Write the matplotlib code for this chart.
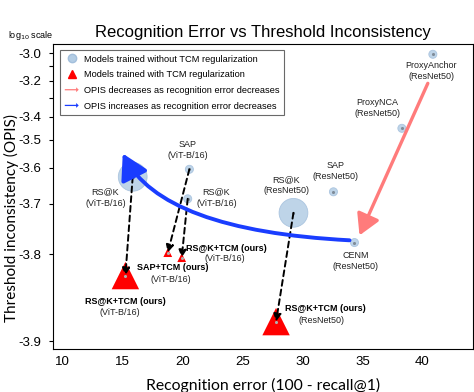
import matplotlib
matplotlib.use("Agg")
import matplotlib.pyplot as plt
import matplotlib.patches as mpatches
from matplotlib.lines import Line2D
from matplotlib.legend_handler import HandlerPatch
import numpy as np

plt.rcParams['font.family'] = ['Liberation Sans', 'DejaVu Sans']

# models trained without TCM (recognition error, log10 OPIS)
base_names = ['ProxyAnchor\n(ResNet50)', 'ProxyNCA\n(ResNet50)', 'SAP\n(ResNet50)',
              'RS@K\n(ResNet50)', 'CENM\n(ResNet50)', 'SAP\n(ViT-B/16)',
              'RS@K\n(ViT-B/16)', 'RS@K\n(ViT-B/16)']
base_err = [40.86, 38.28, 32.58, 29.25, 34.33, 20.58, 20.44, 15.86]
base_opis = [-3.010, -3.452, -3.670, -3.721, -3.780, -3.605, -3.688, -3.628]
base_big = [False, False, False, True, False, False, False, True]

# models trained with TCM
tcm_names = ['SAP+TCM (ours)', 'RS@K+TCM (ours)', 'RS@K+TCM (ours)', 'RS@K+TCM (ours)']
tcm_arch = ['(ViT-B/16)', '(ViT-B/16)', '(ViT-B/16)', '(ResNet50)']
tcm_err = [18.78, 19.94, 15.25, 27.80]
tcm_opis = [-3.797, -3.805, -3.831, -3.883]
tcm_big = [False, False, True, True]
# which baseline each TCM model comes from
tcm_from = [5, 6, 7, 3]

# trend arrows (start -> end)
red_arrow = [(40.44, -3.215), (34.75, -3.767)]
blue_arrow = [(33.92, -3.776), (15.03, -3.552)]

yticks = [-3.0, -3.1, -3.2, -3.3, -3.4, -3.5, -3.6, -3.7, -3.8, -3.9]
ytick_labels = ['-3.0', '', '-3.2', '', '-3.4', '-3.5', '-3.6', '-3.7', '-3.8', '-3.9']
xticks = [10, 15, 20, 25, 30, 35, 40]

# label offsets in points
base_off = [(-1, -12), (-17.5, 14.5), (1.4, 15), (-5, 20), (0.7, -13.5),
            (-1.4, 13.7), (20.7, 0.9), (-19.7, -15)]
tcm_off_bold = [(3.6, -10.8), (32.4, 6.9), (0, -18.5), (35.7, 9.6)]
tcm_off_arch = [(2.4, -19.7), (30.7, -0.7), (-3.8, -26.9), (33, 0.7)]


def fwd(y):
    return np.log(np.clip(np.asarray(y, dtype=float) + 4, 1e-6, None))


def inv(t):
    return np.exp(t) - 4


blue_c = '#b3cde5'
fig = plt.figure(figsize=(4.74, 3.92), dpi=100)
ax = fig.add_axes([0.1118, 0.1097, 0.886, 0.7793])
ax.set_yscale('function', functions=(fwd, inv))

sizes = [430 if b else 34 for b in base_big]
ax.scatter(base_err, base_opis, s=sizes, c=blue_c, alpha=0.85, edgecolors='#a3bfdc',
           linewidths=0.6, zorder=2)
ax.scatter(base_err, base_opis, s=1.5, c='#7f8c99', zorder=3)
tsizes = [390 if b else 40 for b in tcm_big]
ax.scatter(tcm_err, tcm_opis, s=tsizes, c='#ff0000', marker='^', linewidths=0, zorder=2)
ax.scatter(tcm_err, tcm_opis, s=1.5, c='#b0b0b0', zorder=3)

for i, j in enumerate(tcm_from):
    ax.annotate('', xy=(tcm_err[i], tcm_opis[i]), xytext=(base_err[j], base_opis[j]),
                arrowprops=dict(arrowstyle='-|>', ls=(0, (3, 2)), lw=1.4, color='k',
                                mutation_scale=11, shrinkA=0, shrinkB=0), zorder=4)

ax.annotate('', xy=red_arrow[1], xytext=red_arrow[0],
            arrowprops=dict(arrowstyle='-|>,head_length=0.7,head_width=0.4', lw=2.4,
                            color='#ff7b7b', mutation_scale=18, shrinkA=0, shrinkB=0),
            zorder=4)
ax.annotate('', xy=blue_arrow[1], xytext=blue_arrow[0],
            arrowprops=dict(arrowstyle='-|>,head_length=0.7,head_width=0.4', lw=2.8,
                            color='#1a3dff', mutation_scale=22, shrinkA=0, shrinkB=0,
                            connectionstyle='angle3,angleA=-3,angleB=117'),
            zorder=4)

for name, x, y, off in zip(base_names, base_err, base_opis, base_off):
    ax.annotate(name, (x, y), xytext=off, textcoords='offset points', ha='center',
                va='center', fontsize=6.5, linespacing=1.3, color='#222222', zorder=5)
for k in range(len(tcm_names)):
    ax.annotate(tcm_names[k], (tcm_err[k], tcm_opis[k]), xytext=tcm_off_bold[k],
                textcoords='offset points', ha='center', va='center', fontsize=6.5,
                fontweight='bold', zorder=5)
    ax.annotate(tcm_arch[k], (tcm_err[k], tcm_opis[k]), xytext=tcm_off_arch[k],
                textcoords='offset points', ha='center', va='center', fontsize=6.5,
                color='#222222', zorder=5)

ax.set_xlim(9.22, 44.2)
ax.set_ylim(-3.906, -2.921)
ax.set_xticks(xticks)
ax.set_yticks(yticks)
ax.set_yticklabels(ytick_labels)
ax.minorticks_off()
ax.tick_params(axis='x', length=0, pad=5, labelsize=9.5)
ax.tick_params(axis='y', length=3, pad=5.5, labelsize=9.5)

ax.set_title('Recognition Error vs Threshold Inconsistency', fontsize=12, pad=5)
ax.set_xlabel('Recognition error (100 - recall@1)', fontsize=11.3, family='Lato', labelpad=7)
ax.set_ylabel('Threshold inconsistency (OPIS)', fontsize=11, family='Lato')
ax.yaxis.set_label_coords(-0.08, 0.43)
fig.text(31 / 474, 1 - 36 / 392, 'log$_{10}$ scale', fontsize=6.5, ha='center', va='center')


def make_arrow(legend, orig_handle, xdescent, ydescent, width, height, fontsize):
    return mpatches.FancyArrow(0, 0.5 * height, width, 0, length_includes_head=True,
                               width=0.9, head_width=0.75 * height, head_length=0.4 * height)


handles = [
    Line2D([], [], ls='none', marker='o', ms=6, mfc=blue_c, mec='#a3bfdc'),
    Line2D([], [], ls='none', marker='^', ms=6, mfc='#ff0000', mec='#ff0000'),
    mpatches.FancyArrow(0, 0, 1, 0, color='#ff7b7b', lw=0),
    mpatches.FancyArrow(0, 0, 1, 0, color='#1a3dff', lw=0),
]
labels = ['Models trained without TCM regularization',
          'Models trained with TCM regularization',
          'OPIS decreases as recognition error decreases',
          'OPIS increases as recognition error decreases']
leg = ax.legend(handles, labels, loc='upper left', bbox_to_anchor=(0.017, 0.979),
                borderaxespad=0, fontsize=6.7, handlelength=1.5, handletextpad=0.55,
                labelspacing=0.72, borderpad=0.5, fancybox=False, edgecolor='#444444',
                handler_map={mpatches.FancyArrow: HandlerPatch(patch_func=make_arrow)})
leg.get_frame().set_linewidth(0.8)

fig.savefig('out.png', dpi=100)
